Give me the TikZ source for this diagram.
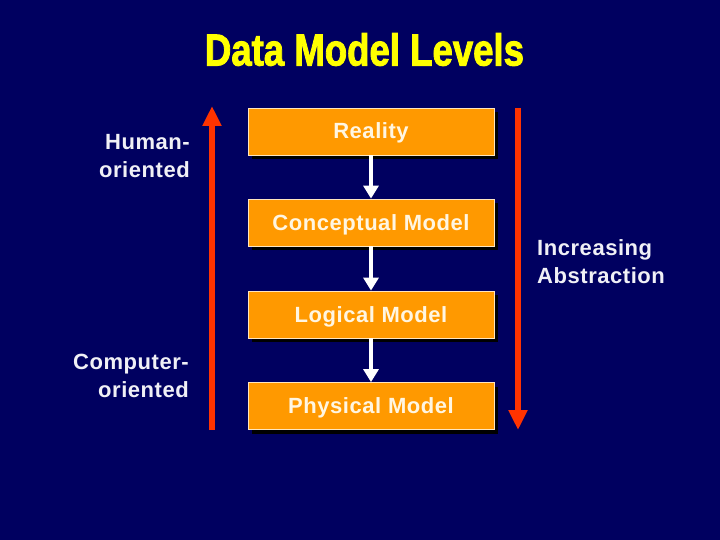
\documentclass[tikz,border=0pt]{standalone}
\usepackage{fontspec}
\setmainfont{Liberation Sans}
\newfontfamily\boxfont[LetterSpace=2.5]{Liberation Sans Bold}
\newfontfamily\titlefont[FakeBold=2.2]{Liberation Sans Bold}
\usetikzlibrary{arrows.meta,shadows}
\definecolor{bgnavy}{HTML}{000060}
\definecolor{boxorange}{HTML}{FF9900}
\definecolor{boxtext}{HTML}{FFF6E2}
\definecolor{labeltext}{HTML}{F0F0F6}
\definecolor{titleyellow}{HTML}{FFFF00}
\definecolor{redarrow}{HTML}{FF3300}
\tikzset{
  levelbox/.style={rectangle, fill=boxorange, draw=white!75!boxorange, line width=0.8pt,
    minimum width=246pt, minimum height=47pt, inner sep=0pt, text=boxtext,
    text height=17pt, text depth=2pt,
    font=\boxfont\fontsize{22}{26}\selectfont,
    drop shadow={shadow xshift=4pt, shadow yshift=-4pt, fill=black, opacity=1}},
  sidelabel/.style={text=labeltext, font=\boxfont\fontsize{22}{28}\selectfont, inner sep=0pt},
  flowarrow/.style={draw=white, line width=4pt, -{Triangle[width=15pt,length=13pt]}},
  bigarrow/.style={draw=redarrow, line width=6pt, -{Triangle[width=18pt,length=20pt]}}
}
\begin{document}
\begin{tikzpicture}[x=1pt,y=-1pt]
\fill[bgnavy] (0,0) rectangle (720,540);
\useasboundingbox (0,0) rectangle (720,540);
\node[text=titleyellow, font=\titlefont\fontsize{35}{40}\selectfont, inner sep=0pt] (title) at (364.5,49.5) {\scalebox{1.045}[1.28]{Data Model Levels}};
\node[levelbox] (reality) at (371,131.5) {Reality};
\node[levelbox] (concept) at (371,222.5) {Conceptual Model};
\node[levelbox] (logical) at (371,314.5) {Logical Model};
\node[levelbox] (physical) at (371,406) {Physical Model};
\draw[flowarrow] (reality.south) -- (concept.north);
\draw[flowarrow] (concept.south) -- (logical.north);
\draw[flowarrow] (logical.south) -- (physical.north);
\coordinate (lbot) at (212,430);
\coordinate (ltop) at (212,106);
\coordinate (rtop) at (518,108);
\coordinate (rbot) at (518,430);
\draw[bigarrow] (lbot) -- (ltop);
\draw[bigarrow] (rtop) -- (rbot);
\node[sidelabel, align=right, anchor=east] (human) at (190,156) {Human-\\oriented};
\node[sidelabel, align=right, anchor=east] (computer) at (189,376) {Computer-\\oriented};
\node[sidelabel, align=left, anchor=west] (abstr) at (537,261.5) {Increasing\\Abstraction};
\end{tikzpicture}
\end{document}
